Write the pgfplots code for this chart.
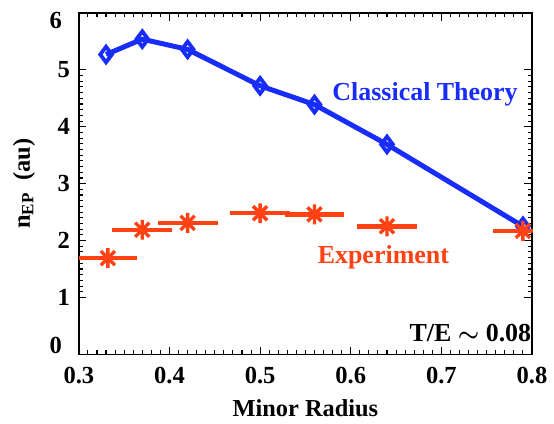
\documentclass[border=0pt]{standalone}
\usepackage{pgfplots}
\pgfplotsset{compat=1.18}
\usepackage{fontspec}
\setmainfont{Liberation Serif}
\definecolor{thblue}{RGB}{25,45,250}
\definecolor{exred}{RGB}{255,65,20}
% eight-armed asterisk like the IDL symbol
\pgfdeclareplotmark{star8}{%
  \pgfpathmoveto{\pgfqpoint{0pt}{-\pgfplotmarksize}}\pgfpathlineto{\pgfqpoint{0pt}{\pgfplotmarksize}}%
  \pgfpathmoveto{\pgfqpoint{-\pgfplotmarksize}{0pt}}\pgfpathlineto{\pgfqpoint{\pgfplotmarksize}{0pt}}%
  \pgfpathmoveto{\pgfqpoint{-0.707\pgfplotmarksize}{-0.707\pgfplotmarksize}}\pgfpathlineto{\pgfqpoint{0.707\pgfplotmarksize}{0.707\pgfplotmarksize}}%
  \pgfpathmoveto{\pgfqpoint{-0.707\pgfplotmarksize}{0.707\pgfplotmarksize}}\pgfpathlineto{\pgfqpoint{0.707\pgfplotmarksize}{-0.707\pgfplotmarksize}}%
  \pgfusepathqstroke}
\begin{document}
\begin{tikzpicture}
\begin{axis}[
    scale only axis, width=227pt, height=171pt,
    xmin=0.3, xmax=0.8, ymin=0, ymax=6,
    xtick={0.3,0.4,...,0.8}, ytick={1,2,...,5},
    extra y ticks={0,6}, extra y tick labels={},
    minor x tick num=9, minor y tick num=9,
    tick align=inside,
    major tick length=3.8pt, minor tick length=2pt,
    axis line style={line width=0.7pt}, every tick/.style={line width=0.55pt, black},
    /pgf/number format/assume math mode=true,
    xticklabel style={font=\fontsize{12.3}{14}\selectfont\bfseries, yshift=-3pt, /pgf/number format/fixed, /pgf/number format/precision=1, /pgf/number format/fixed zerofill},
    yticklabel style={font=\fontsize{12.3}{14}\selectfont\bfseries, xshift=-1pt},
    xlabel={Minor Radius}, ylabel={n$_{\mathbf{EP}}$ \ (au)},
    label style={font=\fontsize{12.2}{14}\selectfont\bfseries},
    xlabel style={at={(axis description cs:0.5,-0.158)}, anchor=center},
    ylabel style={at={(axis description cs:-0.121,0.5)}, anchor=center},
    clip=false,
]
\addplot[thblue, line width=2.5pt, mark=diamond, mark size=3.9pt, mark options={line width=1.9pt, fill=white}]
coordinates {(0.33,5.27)(0.37,5.54)(0.42,5.36)(0.50,4.72)(0.56,4.39)(0.64,3.69)(0.79,2.25)};
\begin{scope}
\clip (rel axis cs:0,0) rectangle (rel axis cs:1,1);
\addplot[exred, only marks, mark=star8, mark size=5pt, mark options={line width=1.7pt},
    error bars/.cd, x dir=both, x explicit, error mark=none,
    error bar style={line width=2.2pt, exred}]
coordinates {(0.332,1.69)+-(0.032,0)(0.37,2.19)+-(0.033,0)(0.42,2.31)+-(0.033,0)
    (0.50,2.48)+-(0.033,0)(0.56,2.46)+-(0.033,0)(0.64,2.25)+-(0.033,0)(0.79,2.17)+-(0.033,0)};
\end{scope}
\node[thblue, font=\fontsize{13}{15}\selectfont\bfseries] at (axis cs:0.682,4.57) {Classical Theory};
\node[exred, font=\fontsize{13}{15}\selectfont\bfseries] at (axis cs:0.636,1.70) {Experiment};
\node[font=\fontsize{13}{15}\selectfont\bfseries] at (axis cs:0.732,0.37) {T/E {\boldmath$\sim$} 0.08};
\node[anchor=east, font=\fontsize{12.3}{14}\selectfont\bfseries] at ([xshift=-5pt,yshift=4.5pt]rel axis cs:0,0) {0};
\node[anchor=east, font=\fontsize{12.3}{14}\selectfont\bfseries] at ([xshift=-5pt,yshift=-3.7pt]rel axis cs:0,1) {6};
\end{axis}
\path ([xshift=-39.5pt,yshift=-33.5pt]current axis.south west) ([xshift=11pt,yshift=6.5pt]current axis.north east);
\end{tikzpicture}
\end{document}
